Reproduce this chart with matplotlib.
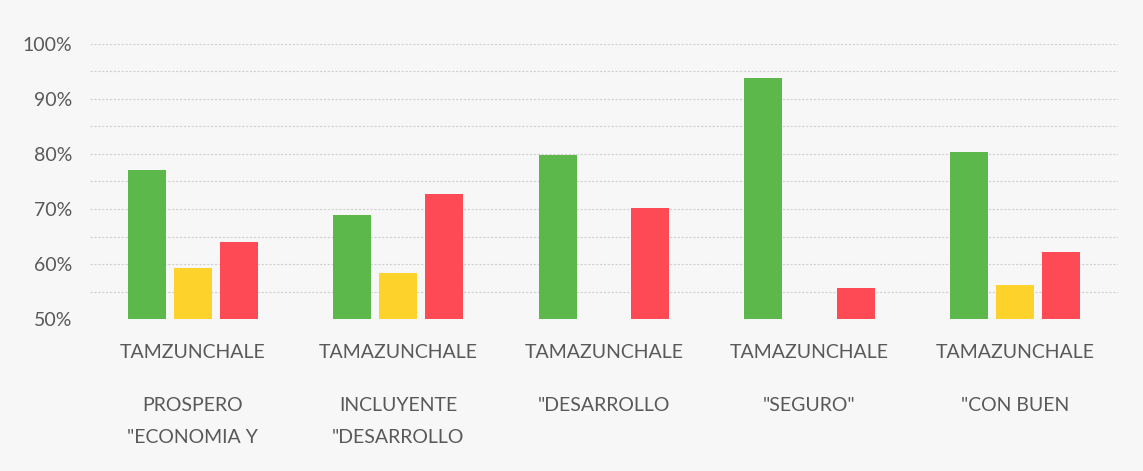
import numpy as np
import matplotlib
matplotlib.use("Agg")
import matplotlib.pyplot as plt
from matplotlib.ticker import MultipleLocator, FuncFormatter

# data (percent)
line1 = ["TAMZUNCHALE", "TAMAZUNCHALE", "TAMAZUNCHALE", "TAMAZUNCHALE", "TAMAZUNCHALE"]
line2 = ["PROSPERO", "INCLUYENTE", "\"DESARROLLO", "\"SEGURO\"", "\"CON BUEN"]
line3 = ["\"ECONOMIA Y", "\"DESARROLLO", "", "", ""]
green = [77.1, 68.9, 79.8, 93.9, 80.4]
yellow = [59.3, 58.4, np.nan, np.nan, 56.2]
red = [64.0, 72.7, 70.2, 55.6, 62.2]

plt.rcParams["font.family"] = ["Lato", "DejaVu Sans"]
text_color = "#595959"

fig = plt.figure(figsize=(11.43, 4.71), dpi=100, facecolor="#f7f7f7")
ax = fig.add_axes([0.0787, 0.3227, 0.8993, 0.5839])
ax.set_facecolor("#f7f7f7")

x = np.arange(len(green))
off, w = 0.224, 0.185
base = 50
ax.bar(x - off, np.array(green) - base, w, bottom=base, color="#5cb84a")
ax.bar(x, np.array(yellow) - base, w, bottom=base, color="#fdd22a")
ax.bar(x + off, np.array(red) - base, w, bottom=base, color="#fd4a55")

ax.set_xlim(-0.5, 4.5)
ax.set_ylim(50, 100)
ax.yaxis.set_major_locator(MultipleLocator(10))
ax.yaxis.set_minor_locator(MultipleLocator(5))
ax.yaxis.set_major_formatter(FuncFormatter(lambda v, p: f"{v:.0f}%"))
ax.grid(True, which="both", axis="y", color="#d0d0d0", linestyle=(0, (2, 1.5)), linewidth=0.8)
ax.set_axisbelow(True)
ax.tick_params(axis="y", which="both", length=0, labelsize=14, labelcolor=text_color, pad=13)
ax.set_xticks([])
for s in ax.spines.values():
    s.set_visible(False)

for i in range(len(x)):
    for txt, dy in zip([line1[i], line2[i], line3[i]], [-33, -86, -118]):
        if txt:
            ax.annotate(txt, xy=(x[i], 0), xycoords=("data", "axes fraction"),
                        xytext=(0, dy), textcoords="offset pixels",
                        ha="center", va="center", fontsize=14, color=text_color)

fig.savefig("out.png", dpi=100, facecolor=fig.get_facecolor())
